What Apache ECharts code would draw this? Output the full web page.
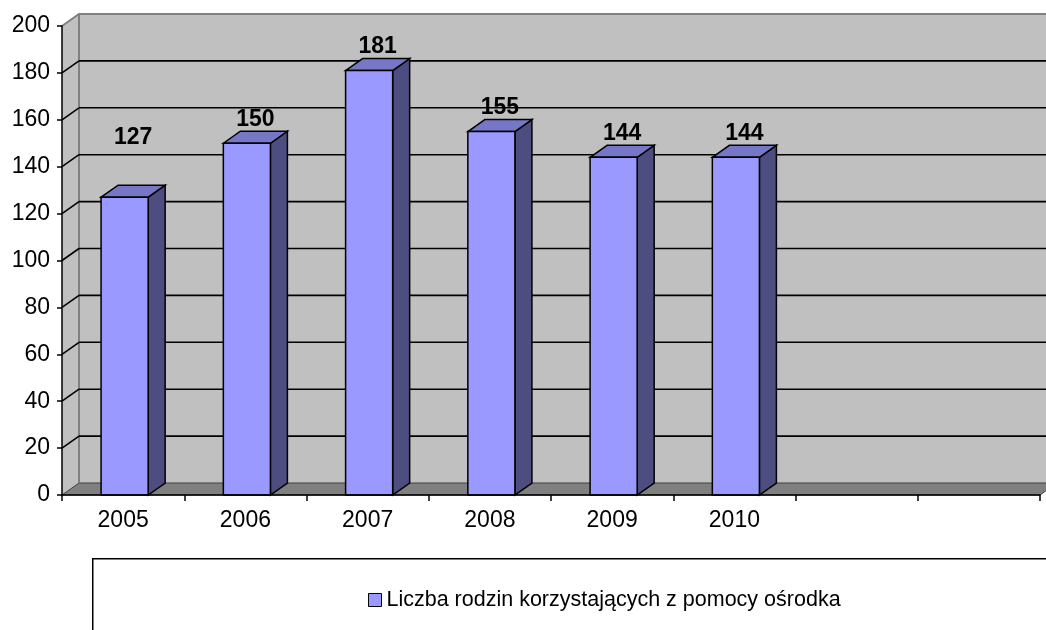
<!DOCTYPE html>
<html>
<head>
<meta charset="utf-8">
<script src="https://cdn.jsdelivr.net/npm/echarts@6/dist/echarts.min.js"></script>
<style>
html,body{margin:0;padding:0;background:#fff;}
#chart{width:1046px;height:630px;}
</style>
</head>
<body>
<div id="chart"></div>
<script>
const categories = ['2005', '2006', '2007', '2008', '2009', '2010', '', ''];
const values = [127, 150, 181, 155, 144, 144];
const yTicks = [0, 20, 40, 60, 80, 100, 120, 140, 160, 180, 200];
const seriesName = 'Liczba rodzin korzystających z pomocy ośrodka';

const DX = 17, DY = -12;
const FONT = '"Liberation Sans", Arial, sans-serif';

const chart = echarts.init(document.getElementById('chart'));

function renderWall(params, api) {
  const cs = params.coordSys;
  const y0 = api.coord([0, 0])[1];
  const yTop = api.coord([0, yTicks[yTicks.length - 1]])[1];
  const xl = cs.x, xr = cs.x + cs.width;
  const children = [];
  children.push({type: 'rect', shape: {x: xl + DX, y: yTop + DY, width: cs.width + 20, height: y0 - yTop},
    style: {fill: '#c0c0c0', stroke: null}});
  children.push({type: 'polygon', shape: {points: [[xl, yTop], [xl + DX, yTop + DY], [xl + DX, y0 + DY], [xl, y0]]},
    style: {fill: '#c0c0c0', stroke: null}});
  children.push({type: 'polygon', shape: {points: [[xl, y0], [xl + DX, y0 + DY], [xr + DX, y0 + DY], [xr, y0]]},
    style: {fill: '#808080', stroke: '#404040', lineWidth: 1}});
  children.push({type: 'line', shape: {x1: xl + DX, y1: yTop + DY, x2: xl + DX, y2: y0 + DY},
    style: {stroke: '#808080', lineWidth: 2}});
  children.push({type: 'polyline', shape: {points: [[xl, yTop], [xl + DX, yTop + DY], [xr + DX + 20, yTop + DY]]},
    style: {stroke: '#808080', lineWidth: 2, fill: null}});
  yTicks.forEach(function (v) {
    if (v === 0 || v === yTicks[yTicks.length - 1]) return;
    const y = api.coord([0, v])[1];
    children.push({type: 'line', shape: {x1: xl + DX, y1: y + DY, x2: xr + DX + 20, y2: y + DY},
      style: {stroke: '#000', lineWidth: 1.6}});
    children.push({type: 'line', shape: {x1: xl, y1: y, x2: xl + DX, y2: y + DY},
      style: {stroke: '#000', lineWidth: 1.6}});
  });
  return {type: 'group', children: children};
}

function renderBar(params, api) {
  const idx = api.value(0);
  const v = api.value(1);
  const top = api.coord([idx, v]);
  const base = api.coord([idx, 0]);
  const w = api.size([1, 0])[0] * 0.385;
  const x = top[0] - w / 2 + 1.5;
  const yt = top[1], yb = base[1];
  const lift = params.dataIndex === 0 ? 36 : 0;
  return {type: 'group', children: [
    {type: 'polygon', shape: {points: [[x + w, yt], [x + w + DX, yt + DY], [x + w + DX, yb + DY], [x + w, yb]]},
      style: {fill: '#4d4d80', stroke: '#000', lineWidth: 1.5}},
    {type: 'polygon', shape: {points: [[x, yt], [x + DX, yt + DY], [x + w + DX, yt + DY], [x + w, yt]]},
      style: {fill: '#7777c8', stroke: '#000', lineWidth: 1.5}},
    {type: 'rect', shape: {x: x, y: yt, width: w, height: yb - yt},
      style: {fill: '#9999ff', stroke: '#000', lineWidth: 1.5}},
    {type: 'text', style: {text: String(v), x: x + (w + DX) / 2, y: yt + DY - lift,
      textAlign: 'center', textVerticalAlign: 'bottom',
      font: 'bold 23px ' + FONT, fill: '#000'}}
  ]};
}

const option = {
  animation: false,
  backgroundColor: '#ffffff',
  grid: {left: 62, right: 6, top: 26, bottom: 135, containLabel: false},
  xAxis: {
    type: 'category', data: categories, boundaryGap: true,
    axisLine: {show: true, lineStyle: {color: '#000', width: 1.5}},
    axisTick: {show: true, length: 6, lineStyle: {color: '#000', width: 1.5}},
    axisLabel: {color: '#000', fontSize: 23, fontFamily: FONT, margin: 14, interval: 0},
    splitLine: {show: false}, z: 10
  },
  yAxis: {
    type: 'value', min: 0, max: 200, interval: 20,
    axisLine: {show: true, lineStyle: {color: '#000', width: 1.5}},
    axisTick: {show: true, length: 5, lineStyle: {color: '#000', width: 1.5}},
    axisLabel: {color: '#000', fontSize: 23, fontFamily: FONT, margin: 12},
    splitLine: {show: false}, z: 10
  },
  legend: {
    show: true, left: 363, top: 584, data: [{name: seriesName, icon: 'rect'}],
    itemWidth: 13, itemHeight: 13, itemGap: 5,
    textStyle: {color: '#000', fontSize: 21.5, fontFamily: FONT},
    itemStyle: {color: '#9999ff', borderColor: '#000', borderWidth: 1}
  },
  graphic: [{type: 'rect', left: 92, top: 558, shape: {width: 1000, height: 100},
    style: {fill: '#fff', stroke: '#000', lineWidth: 1.5}, z: -1}],
  series: [
    {type: 'custom', name: '_wall', renderItem: renderWall, data: [[0, 0]], clip: false, z: 1, silent: true},
    {type: 'custom', name: seriesName, renderItem: renderBar, clip: false, z: 2,
      itemStyle: {color: '#9999ff', borderColor: '#000', borderWidth: 1},
      data: values.map(function (v, i) { return [i, v]; })}
  ]
};
chart.setOption(option);
</script>
</body>
</html>
